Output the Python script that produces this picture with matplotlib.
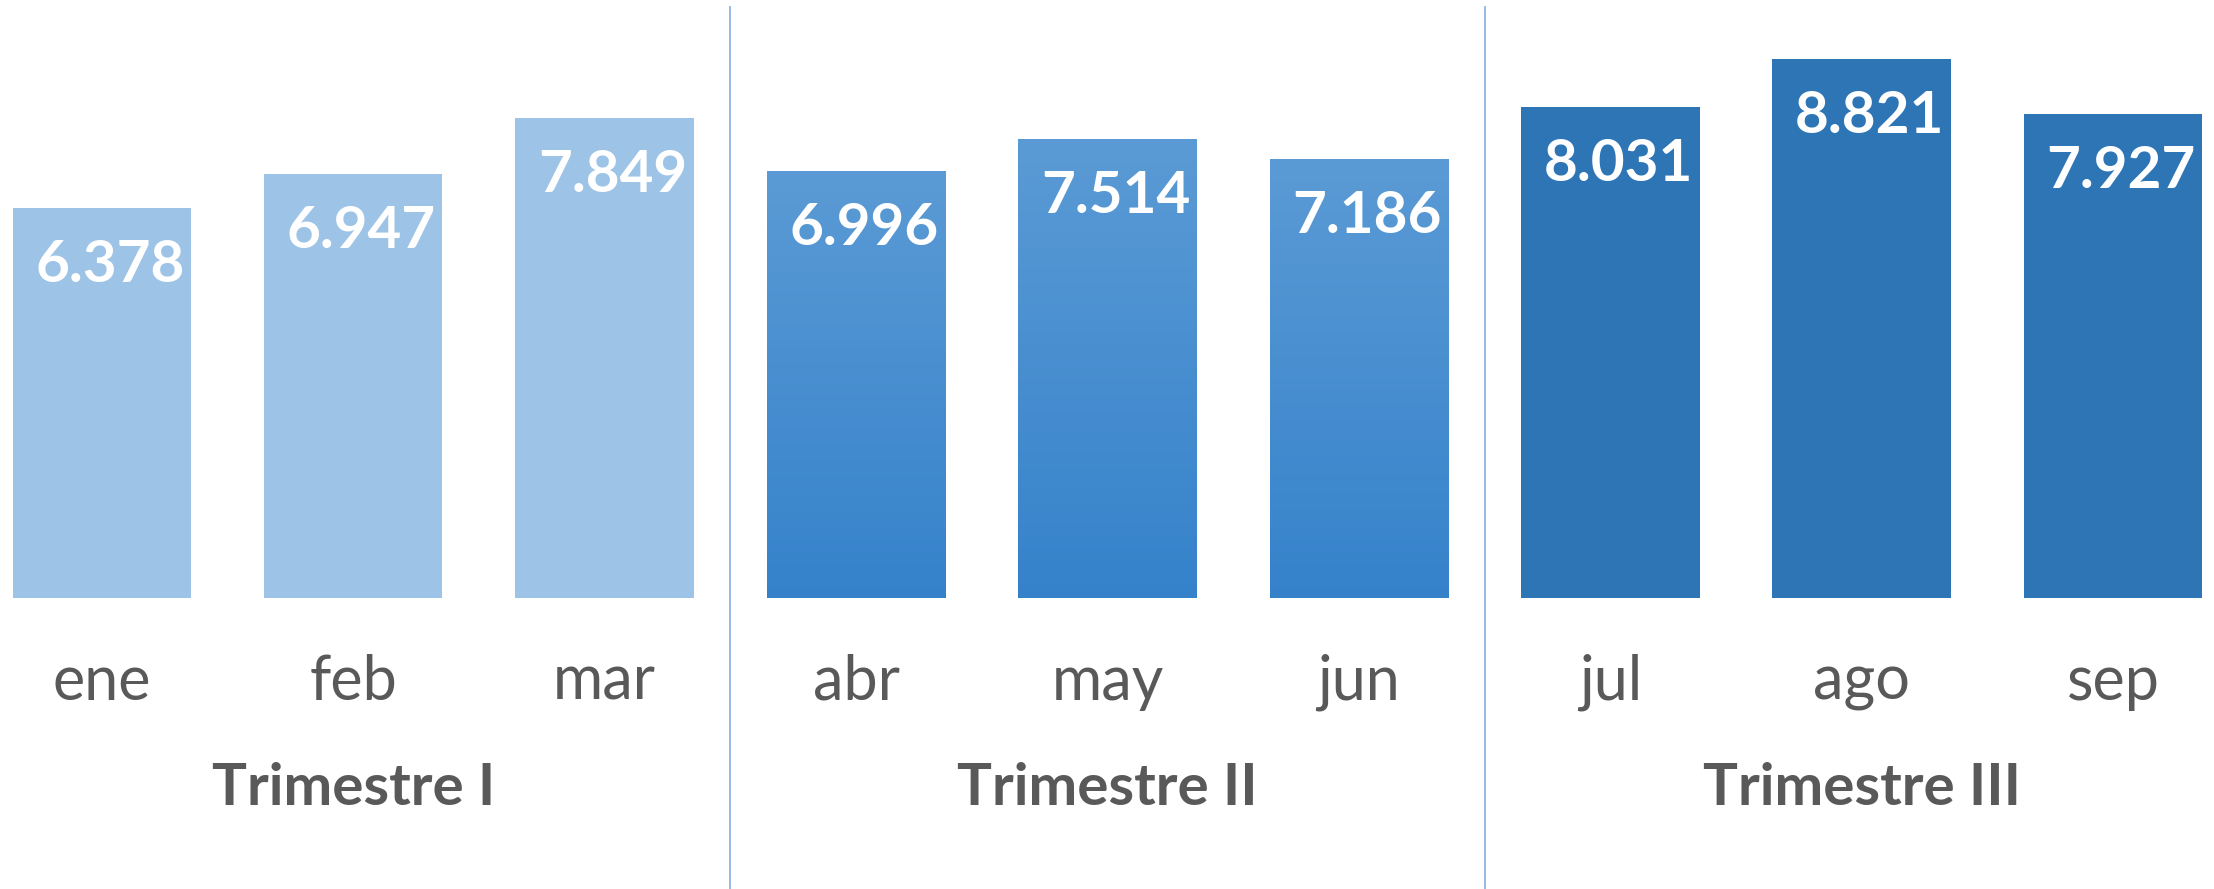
import matplotlib.pyplot as plt
import numpy as np
from matplotlib.colors import LinearSegmentedColormap

months = ["ene", "feb", "mar", "abr", "may", "jun", "jul", "ago", "sep"]
values = [6.378, 6.947, 7.849, 6.996, 7.514, 7.186, 8.031, 8.821, 7.927]
value_labels = ["6.378", "6.947", "7.849", "6.996", "7.514", "7.186", "8.031", "8.821", "7.927"]
quarters = ["Trimestre I", "Trimestre II", "Trimestre III"]

plt.rcParams['font.family'] = ['Lato', 'DejaVu Sans']

fig = plt.figure(figsize=(22.14, 8.89), dpi=100)
# plot area is a bit wider than the picture, as in the original (cropped) chart
ax = fig.add_axes([-0.0108, 0.3273, 1.022, 0.6873])
ax.set_xlim(-0.5, 8.5)
ax.set_ylim(0, 10)
ax.axis('off')

x = np.arange(len(months))
colors = ["#9DC3E6"] * 3 + ["#4A90D2"] * 3 + ["#2E75B6"] * 3
bars = ax.bar(x, values, width=0.71, color=colors, zorder=2)

# gradient fill for the second quarter
grad = LinearSegmentedColormap.from_list("q2", ["#3582CB", "#5B9BD5"])
for b in bars[3:6]:
    x0, w, h = b.get_x(), b.get_width(), b.get_height()
    img = ax.imshow(np.linspace(0, 1, 256).reshape(-1, 1), cmap=grad, origin="lower",
                    extent=[x0, x0 + w, 0, h], aspect="auto", zorder=3)
    img.set_clip_path(b)
ax.set_xlim(-0.5, 8.5)
ax.set_ylim(0, 10)

for xi, v, lab in zip(x, values, value_labels):
    ax.annotate(lab, (xi, v), xytext=(5.8, -53.3), textcoords="offset points",
                ha="center", va="baseline", color="white", fontsize=42,
                fontweight="bold", zorder=4)

for xi, m in zip(x, months):
    ax.annotate(m, (xi, 0), xytext=(0, -73.4), textcoords="offset points",
                ha="center", va="baseline", color="#595959", fontsize=44,
                annotation_clip=False)

for i, q in enumerate(quarters):
    ax.annotate(q, (3 * i + 1, 0), xytext=(0, -149), textcoords="offset points",
                ha="center", va="baseline", color="#595959", fontsize=42,
                fontweight="bold", annotation_clip=False)

for sep in [2.5, 5.5]:
    ax.axvline(sep, ymin=-0.5, ymax=0.967, color="#8DB4E2", lw=1.3, clip_on=False)

fig.savefig("out.png", dpi=100)
